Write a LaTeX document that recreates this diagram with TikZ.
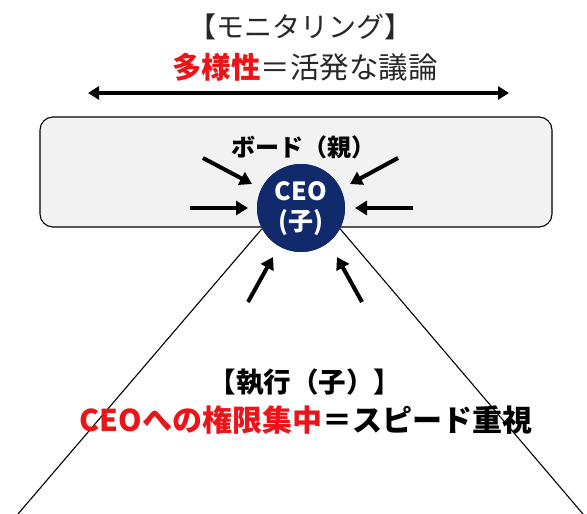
\documentclass[tikz,border=0pt]{standalone}
\usepackage{fontspec}
\setmainfont{Noto Sans CJK JP}
\usetikzlibrary{arrows.meta}
\definecolor{navy}{RGB}{16,42,108}
\definecolor{redtxt}{RGB}{235,20,25}
\definecolor{darktxt}{RGB}{40,40,40}
\definecolor{boardfill}{RGB}{242,242,242}
\tikzset{
  push/.style={line width=4pt,-{Triangle[length=12pt,width=14pt]}},
  wide/.style={line width=3.6pt,{Triangle[length=11pt,width=13pt]}-{Triangle[length=11pt,width=13pt]}},
  edge/.style={line width=1.1pt,black},
  lbl/.style={inner sep=0pt,anchor=center}
}
\begin{document}
\begin{tikzpicture}[x=1pt,y=-1pt]
\useasboundingbox (0,0) rectangle (587,514);
\fill[white] (0,0) rectangle (587,514);
% board
\node[draw=black,line width=1.1pt,fill=boardfill,rounded corners=13pt,minimum width=512pt,minimum height=110pt,inner sep=0pt] (board) at (296,172) {};
% CEO circle
\node[circle,fill=navy,minimum size=88pt,inner sep=0pt] (ceo) at (301,208) {};
% triangle edges
\coordinate (tl) at (18,514);
\coordinate (tr) at (583,514);
\draw[edge] (ceo.-152) -- (tl);
\draw[edge] (ceo.-28) -- (tr);
\node[circle,fill=navy,minimum size=88pt,inner sep=0pt] at (ceo.center) {};
\node[lbl,text=white,font=\fontsize{25}{26}\selectfont\bfseries] (ceot) at (301,191) {CEO};
\node[lbl,text=white,font=\fontsize{25}{26}\selectfont\bfseries] (ceoc) at (301,223) {(子)};
% top texts
\node[lbl,text=darktxt,font=\fontsize{28}{29}\selectfont] (mon) at (300,27) {【モニタリング】};
\node[lbl,font=\fontsize{29.5}{30}\selectfont] (div) at (305,67) {\textcolor{redtxt}{\bfseries 多様性}\textcolor{darktxt}{＝活発な議論}};
\coordinate (al) at (88,93);
\coordinate (ar) at (509,93);
\draw[wide] (al) -- (ar);
% board label
\node[lbl,font=\fontsize{24}{25}\selectfont\bfseries] (bd) at (303,147) {ボード（親）};
% arrows
\coordinate (a1) at (203,158); \coordinate (b1) at (252,184);
\coordinate (a2) at (398,158); \coordinate (b2) at (350,184);
\coordinate (a3) at (190,208); \coordinate (b3) at (248,208);
\coordinate (a4) at (413,208); \coordinate (b4) at (355,208);
\coordinate (a5) at (248,302); \coordinate (b5) at (273,257);
\coordinate (a6) at (362,302); \coordinate (b6) at (337,257);
\foreach \i in {1,...,6} \draw[push] (a\i) -- (b\i);
% execution text
\node[lbl,font=\fontsize{27.5}{28}\selectfont\bfseries] (ex) at (305,382) {【執行（子）】};
\node[lbl,font=\fontsize{30}{31}\selectfont\bfseries] (conc) at (306,420) {\textcolor{redtxt}{CEOへの権限集中}＝スピード重視};
\end{tikzpicture}
\end{document}
